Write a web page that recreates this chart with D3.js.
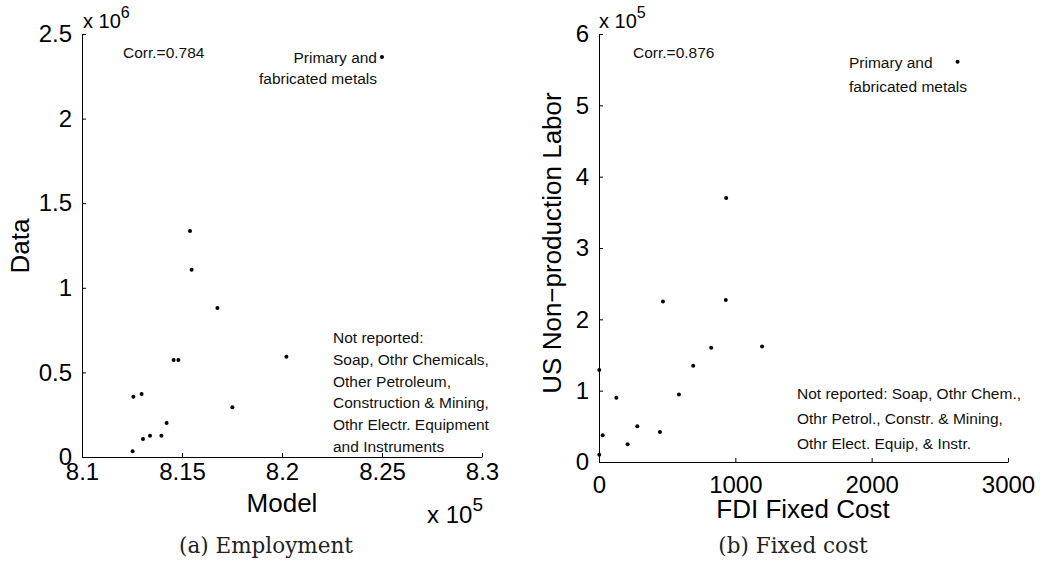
<!DOCTYPE html>
<html>
<head>
<meta charset="utf-8">
<script src="https://cdn.jsdelivr.net/npm/d3@7"></script>
<style>
  body { margin: 0; background: #fff; }
  svg { display: block; font-family: "Liberation Sans", Arial, sans-serif; }
  .axis path, .axis line { stroke: #000; stroke-width: 1; }
  .axis text { font-size: 24px; fill: #000; font-family: "Liberation Sans", Arial, sans-serif; }
  .lbl { font-size: 26px; fill: #000; }
  .note { font-size: 15.5px; fill: #111; }
  .cap { font-family: "DejaVu Serif", serif; font-size: 21.5px; fill: #222; }
</style>
</head>
<body>
<svg width="1040" height="564"></svg>
<script>
// (a) Employment: model (x 10^5) vs data (x 10^6)
const modelX = [8.1253, 8.1257, 8.1298, 8.1305, 8.134, 8.1397, 8.1423, 8.1458, 8.1482, 8.154, 8.1548, 8.1677, 8.1752, 8.2022, 8.25]
const dataY  = [0.034, 0.356, 0.372, 0.106, 0.126, 0.126, 0.201, 0.573, 0.573, 1.336, 1.107, 0.881, 0.294, 0.593, 2.364]
const ticksAX = [8.1, 8.15, 8.2, 8.25, 8.3]
const ticksAY = [0, 0.5, 1, 1.5, 2, 2.5]

// (b) Fixed cost: FDI fixed cost vs US non-production labor (x 10^5)
const fdiX   = [2, 2, 27, 127, 210, 281, 447, 469, 586, 691, 823, 930, 933, 1196, 2630]
const laborY = [0.10, 1.29, 0.375, 0.90, 0.25, 0.50, 0.42, 2.25, 0.945, 1.35, 1.60, 2.27, 3.70, 1.62, 5.61]
const ticksBX = [0, 1000, 2000, 3000]
const ticksBY = [0, 1, 2, 3, 4, 5, 6]

const svg = d3.select('svg')

const panel = (opt) => {
	let scX = d3.scaleLinear().domain(opt.xDom).range(opt.xRange)
	let scY = d3.scaleLinear().domain(opt.yDom).range(opt.yRange)

	svg.append('g')
	.attr('class', 'axis')
	.attr('transform', `translate(0, ${opt.yRange[0]})`)
	.call(d3.axisBottom(scX).tickValues(opt.xTicks).tickFormat(d => String(d))
		.tickSizeInner(-4).tickSizeOuter(0).tickPadding(opt.xPad))

	svg.append('g')
	.attr('class', 'axis')
	.attr('transform', `translate(${opt.xRange[0]}, 0)`)
	.call(d3.axisLeft(scY).tickValues(opt.yTicks).tickFormat(d => String(d))
		.tickSizeInner(-4).tickSizeOuter(0).tickPadding(10))

	svg.selectAll('.axis .domain').attr('stroke', '#000')

	svg.append('g')
	.selectAll('circle')
	.data(opt.xs).enter().append('circle')
	.attr('cx', d => scX(d))
	.attr('cy', (d, i) => scY(opt.ys[i]))
	.attr('r', 2)
	.attr('fill', '#000')
}

panel({ xDom: [8.1, 8.3], xRange: [82, 482], yDom: [0, 2.5], yRange: [457, 34],
	xTicks: ticksAX, yTicks: ticksAY, xs: modelX, ys: dataY, xPad: 6 })

panel({ xDom: [0, 3000], xRange: [599, 1008], yDom: [0, 6], yRange: [462, 34],
	xTicks: ticksBX, yTicks: ticksBY, xs: fdiX, ys: laborY, xPad: 14 })

// exponent labels
const expo = (x, y, base, sup, fs, sfs) => {
	let t = svg.append('text').attr('x', x).attr('y', y).attr('font-size', fs).attr('fill', '#000')
	t.append('tspan').text(base)
	t.append('tspan').attr('font-size', sfs).attr('dy', -fs * 0.5).text(sup)
}
expo(83, 28, 'x 10', '6', 20, 16)
expo(599, 28, 'x 10', '5', 20, 16)
expo(427, 523, 'x 10', '5', 24, 19)

// axis titles
svg.append('text').attr('class', 'lbl').attr('text-anchor', 'middle')
.attr('transform', 'translate(29, 246) rotate(-90)').text('Data')
svg.append('text').attr('class', 'lbl').attr('text-anchor', 'middle')
.attr('x', 282).attr('y', 512).text('Model')
svg.append('text').attr('class', 'lbl').attr('text-anchor', 'middle')
.attr('transform', 'translate(561, 243) rotate(-90)').text('US Non\u2212production Labor')
svg.append('text').attr('class', 'lbl').attr('text-anchor', 'middle')
.attr('x', 803).attr('y', 518).text('FDI Fixed Cost')

// notes
const note = (x, y, str, anchor) => svg.append('text').attr('class', 'note')
	.attr('x', x).attr('y', y).attr('text-anchor', anchor || 'start').text(str)

note(123, 58, 'Corr.=0.784')
note(377, 63, 'Primary and', 'end')
note(377, 84, 'fabricated metals', 'end')
;['Not reported:', 'Soap, Othr Chemicals,', 'Other Petroleum,', 'Construction & Mining,',
  'Othr Electr. Equipment', 'and Instruments'].forEach((s, i) => note(333, 343 + i * 21.8, s))

note(633, 58, 'Corr.=0.876')
note(849, 68, 'Primary and')
note(849, 92, 'fabricated metals')
;['Not reported: Soap, Othr Chem.,', 'Othr Petrol., Constr. & Mining,',
  'Othr Elect. Equip, & Instr.'].forEach((s, i) => note(797, 399 + i * 25, s))

// captions
svg.append('text').attr('class', 'cap').attr('text-anchor', 'middle')
.attr('x', 266).attr('y', 553).text('(a) Employment')
svg.append('text').attr('class', 'cap').attr('text-anchor', 'middle')
.attr('x', 793).attr('y', 553).text('(b) Fixed cost')
</script>
</body>
</html>
